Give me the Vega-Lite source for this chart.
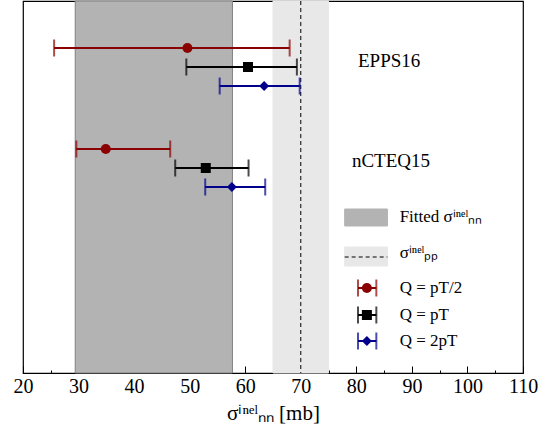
{
  "$schema": "https://vega.github.io/schema/vega-lite/v6.json",
  "width": 500, "height": 372,
  "autosize": {"type": "none"},
  "padding": {"left": 23, "top": 1, "right": 26, "bottom": 67},
  "background": "white",
  "config": {
    "view": {"stroke": "black", "strokeWidth": 1.2},
    "font": "Liberation Serif",
    "axisX": {
      "values": [20,22,24,26,28,30,32,34,36,38,40,42,44,46,48,50,52,54,56,58,60,62,64,66,68,70,72,74,76,78,80,82,84,86,88,90,92,94,96,98,100,102,104,106,108,110],
      "labelExpr": "datum.value % 10 == 0 ? datum.label : ''",
      "labelOverlap": false,
      "labelFlush": false,
      "tickSize": {"condition": {"test": "datum.value % 10 == 0", "value": -7}, "value": -3},
      "zindex": 1,
      "tickColor": "black", "domain": false, "grid": false, "labelFontSize": 20, "labelColor": "black",
      "labelPadding": 10, "titleFontSize": 21, "titleFontWeight": "normal", "titleColor": "black", "titlePadding": 2
    }
  },
  "datasets": {
    "pts": [
      {"g": "EPPS16", "q": "half", "lo": 25.6, "mid": 49.6, "hi": 68.0, "pos": 47},
      {"g": "EPPS16", "q": "one", "lo": 49.4, "mid": 60.5, "hi": 69.3, "pos": 66},
      {"g": "EPPS16", "q": "two", "lo": 55.4, "mid": 63.4, "hi": 69.8, "pos": 85},
      {"g": "nCTEQ15", "q": "half", "lo": 29.6, "mid": 34.9, "hi": 46.5, "pos": 148},
      {"g": "nCTEQ15", "q": "one", "lo": 47.4, "mid": 52.9, "hi": 60.6, "pos": 167},
      {"g": "nCTEQ15", "q": "two", "lo": 52.8, "mid": 57.6, "hi": 63.6, "pos": 186},
      {"g": "legend", "q": "half", "lo": 80.3, "mid": 81.9, "hi": 83.6, "pos": 287},
      {"g": "legend", "q": "one", "lo": 80.3, "mid": 81.9, "hi": 83.6, "pos": 314},
      {"g": "legend", "q": "two", "lo": 80.3, "mid": 81.9, "hi": 83.6, "pos": 340}
    ]
  },
  "encoding": {
    "y": {"field": "pos", "type": "quantitative", "scale": {"domain": [0, 372], "reverse": true, "nice": false}, "axis": null}
  },
  "layer": [
    {
      "data": {"values": [
        {"a": 29.4, "b": 57.7, "t": 0, "u": 372, "c": "#b3b3b3", "s": "#808080"},
        {"a": 65, "b": 75, "t": 0, "u": 372, "c": "#e8e8e8", "s": "#e8e8e8"},
        {"a": 77.9, "b": 85.6, "t": 208, "u": 225, "c": "#b3b3b3", "s": "#b3b3b3"},
        {"a": 77.9, "b": 85.6, "t": 246, "u": 265, "c": "#e8e8e8", "s": "#e8e8e8"}
      ]},
      "mark": {"type": "rect", "strokeWidth": 1},
      "encoding": {
        "x": {"field": "a", "type": "quantitative", "scale": {"domain": [20, 110], "nice": false}, "title": "σⁱⁿᵉˡₙₙ [mb]"},
        "x2": {"field": "b"},
        "y": {"field": "t", "type": "quantitative"}, "y2": {"field": "u"},
        "fill": {"field": "c", "type": "nominal", "scale": null},
        "stroke": {"field": "s", "type": "nominal", "scale": null}
      }
    },
    {
      "data": {"values": [{"a": 70, "b": 70, "t": 0, "u": 372}, {"a": 77.9, "b": 85.6, "t": 256, "u": 256}]},
      "mark": {"type": "rule", "strokeDash": [4, 3], "color": "black", "strokeWidth": 1},
      "encoding": {"x": {"field": "a", "type": "quantitative"}, "x2": {"field": "b"}, "y": {"field": "t", "type": "quantitative"}, "y2": {"field": "u"}}
    },
    {
      "data": {"name": "pts"},
      "mark": {"type": "rule", "strokeWidth": 2},
      "encoding": {
        "x": {"field": "lo", "type": "quantitative"}, "x2": {"field": "hi"},
        "color": {"field": "q", "type": "nominal", "legend": null, "scale": {"domain": ["half", "one", "two"], "range": ["#8b0000", "black", "#00008b"]}}
      }
    },
    {
      "data": {"name": "pts"},
      "mark": {"type": "tick", "orient": "vertical", "size": 17, "thickness": 2},
      "encoding": {"x": {"field": "lo", "type": "quantitative"}, "color": {"field": "q", "type": "nominal", "legend": null}}
    },
    {
      "data": {"name": "pts"},
      "mark": {"type": "tick", "orient": "vertical", "size": 17, "thickness": 2},
      "encoding": {"x": {"field": "hi", "type": "quantitative"}, "color": {"field": "q", "type": "nominal", "legend": null}}
    },
    {
      "data": {"name": "pts"},
      "mark": {"type": "point", "filled": true, "opacity": 1, "size": 100},
      "encoding": {
        "x": {"field": "mid", "type": "quantitative"},
        "color": {"field": "q", "type": "nominal", "legend": null},
        "shape": {"field": "q", "type": "nominal", "legend": null, "scale": {"domain": ["half", "one", "two"], "range": ["circle", "square", "diamond"]}}
      }
    },
    {
      "data": {"values": [
        {"x": 80.3, "p": 60, "t": "EPPS16", "s": 19},
        {"x": 79.2, "p": 160, "t": "nCTEQ15", "s": 19},
        {"x": 87.8, "p": 216, "t": "Fitted σⁱⁿᵉˡₙₙ", "s": 17},
        {"x": 87.8, "p": 252, "t": "σⁱⁿᵉˡₚₚ", "s": 17},
        {"x": 87.8, "p": 287, "t": "Q = pT/2", "s": 17},
        {"x": 87.8, "p": 314, "t": "Q = pT", "s": 17},
        {"x": 87.8, "p": 340, "t": "Q = 2pT", "s": 17}
      ]},
      "mark": {"type": "text", "align": "left", "baseline": "middle", "color": "black"},
      "encoding": {
        "x": {"field": "x", "type": "quantitative"},
        "y": {"field": "p", "type": "quantitative"},
        "text": {"field": "t"},
        "size": {"field": "s", "type": "quantitative", "scale": null}
      }
    }
  ]
}
